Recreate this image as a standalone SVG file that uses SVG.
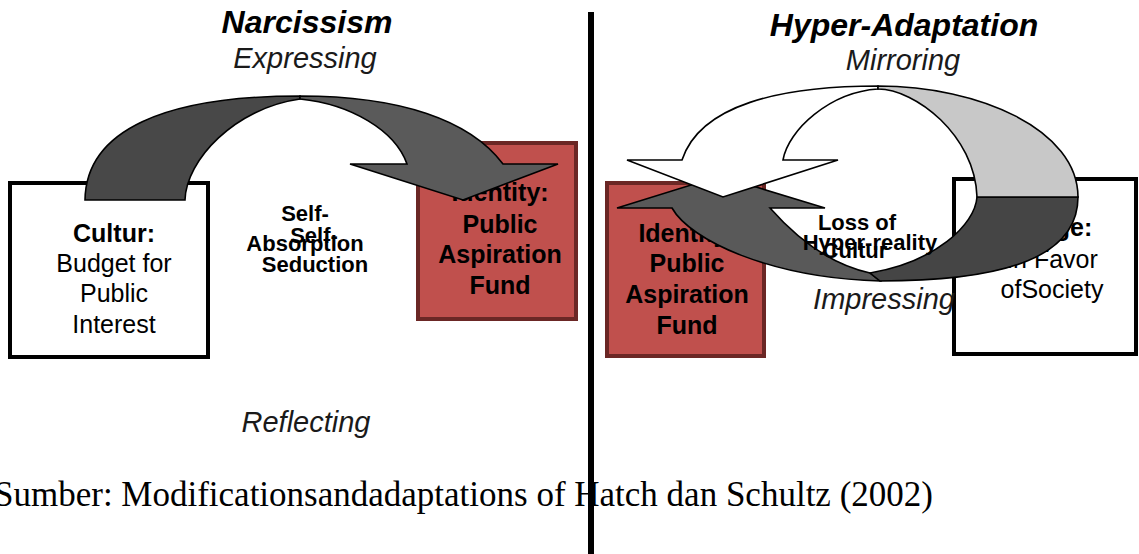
<svg xmlns="http://www.w3.org/2000/svg" width="1139" height="554" viewBox="0 0 1139 554">
<style>
.t{font-family:"Liberation Sans",Arial,sans-serif;fill:#000;text-anchor:middle}
.b{font-weight:bold}
.i{font-style:italic}
.title{font-size:32px;font-weight:bold;font-style:italic}
.sub{font-size:29px;font-style:italic;fill:#1a1a1a}
.box{font-size:25px}
.lab{font-size:22px;font-weight:bold}
.wbox{fill:#fff;stroke:#000;stroke-width:4}
.rbox{fill:#c0504d;stroke:#6b2725;stroke-width:4}
.arr{stroke:#000;stroke-width:1.6;stroke-linejoin:miter}
</style>
<rect width="1139" height="554" fill="#fff"/>
<line x1="591" y1="12" x2="591" y2="554" stroke="#000" stroke-width="6"/>

<g id="node-cultur">
<rect class="wbox" x="10" y="183" width="198" height="174"/>
<text class="t box b" x="114" y="242">Cultur:</text>
<text class="t box" x="114" y="272">Budget for</text>
<text class="t box" x="114" y="302">Public</text>
<text class="t box" x="114" y="333">Interest</text>
</g>
<g id="node-identity-left">
<rect class="rbox" x="418" y="143" width="158" height="176"/>
<text class="t box b" x="500" y="201">Identity:</text>
<text class="t box b" x="500" y="233">Public</text>
<text class="t box b" x="500" y="263">Aspiration</text>
<text class="t box b" x="500" y="294">Fund</text>
</g>
<g id="node-identity-right">
<rect class="rbox" x="607" y="183" width="157" height="173"/>
<text class="t box b" x="687" y="242">Identity:</text>
<text class="t box b" x="687" y="272">Public</text>
<text class="t box b" x="687" y="303">Aspiration</text>
<text class="t box b" x="687" y="334">Fund</text>
</g>
<g id="node-image">
<rect class="wbox" x="954" y="179" width="182" height="175"/>
<text class="t box b" x="1052" y="236">Image:</text>
<text class="t box" x="1052" y="268">In Favor</text>
<text class="t box" x="1052" y="298">ofSociety</text>
</g>

<g id="connectors">
<g id="arrow-narcissism">
<path class="arr" fill="#484848" d="M85,200 C86,130 165,96 300,96 L300,99 C235,108 186,160 185,200 Z"/>
<path class="arr" fill="#5a5a5a" d="M300,96 C400,96 470,120 503,164 L558,164 L463,200 L350,164 L407,164 C395,130 350,104 300,99 Z"/>
</g>
<g id="arrow-impressing">
<path class="arr" fill="#595959" d="M672,208 C690,240 770,278 880,281 L870,273 C820,262 785,225 770,208 L825,208 L720,176 L617,208 Z"/>
<path class="arr" fill="#454545" d="M1078,197 C1078,255 1010,281 880,281 L870,273 C935,262 975,225 977,197 Z"/>
</g>
<g id="arrow-mirroring">
<path class="arr" fill="#fff" d="M682,160 C700,105 780,86 878,86 L878,89 C830,92 788,130 783,160 L838,160 L723,197 L627,160 Z"/>
<path class="arr" fill="#c8c8c8" d="M878,86 C980,86 1078,130 1078,197 L977,197 C975,135 915,89 878,89 Z"/>
</g>
</g>

<g id="labels">
<text class="t title" x="307" y="33">Narcissism</text>
<text class="t sub" x="305" y="68">Expressing</text>
<text class="t title" x="904" y="36">Hyper-Adaptation</text>
<text class="t sub" x="903" y="70">Mirroring</text>
<text class="t sub" x="884" y="309">Impressing</text>
<text class="t sub" x="306" y="432">Reflecting</text>
<text class="t lab" x="305" y="221">Self-</text>
<text class="t lab" x="305" y="251">Absorption</text>
<text class="t lab" x="314" y="243">Self-</text>
<text class="t lab" x="315" y="272">Seduction</text>
<text class="t lab" x="857" y="230">Loss of</text>
<text class="t lab" x="855" y="258">Cultur</text>
<text class="t lab" x="870" y="250">Hyper-reality</text>
</g>
<text x="-6" y="506" font-family="'Liberation Serif','Times New Roman',serif" font-size="35" fill="#000">Sumber: Modificationsandadaptations of Hatch dan Schultz (2002)</text>
</svg>
